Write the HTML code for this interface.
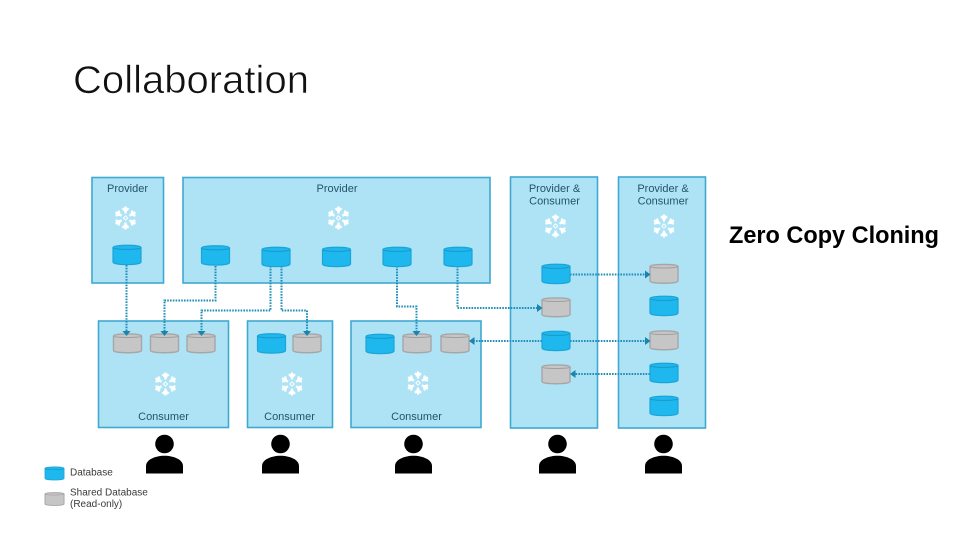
<!DOCTYPE html>
<html><head><meta charset="utf-8"><style>
html,body{margin:0;padding:0;background:#fff}
svg{display:block}
.b{fill:#aee3f5;stroke:#3fa9d0;stroke-width:1.6}
.t{font-family:"Liberation Sans",sans-serif;font-size:11px;fill:#24546a;text-anchor:middle}
.l{font-family:"Liberation Sans",sans-serif;font-size:10px;fill:#3a3a3a}
.c{fill:none;stroke:#1f8db8;stroke-width:2;stroke-dasharray:1.6 1.2}
.a{fill:#1a84ad}
</style></head><body>
<svg width="960" height="540" viewBox="0 0 960 540" xmlns="http://www.w3.org/2000/svg">
<defs>
<g id="bd"><path d="M0 3.500C0 .5 28 .5 28 3.500V18C28 21.500 0 21.500 0 18Z" fill="#1fb8ee" stroke="#1aa5d8" stroke-width="1.2"/><path d="M0 3.500C0 6 28 6 28 3.500" fill="none" stroke="#1799c9" stroke-width="1"/></g>
<g id="gd"><path d="M0 3C0 .3 28 .3 28 3V17.500C28 20.500 0 20.500 0 17.500Z" fill="#c6c6c6" stroke="#a6a6a6" stroke-width="1.400"/><path d="M0 3C0 5 28 5 28 3" fill="none" stroke="#a0a0a0" stroke-width="1"/></g>
<g id="sf" stroke="#fff" fill="none" stroke-width="2.300">
<path id="arm" d="M0-11.500V-4.500M-3-9.800L0-6.800 3-9.800"/>
<use href="#arm" transform="rotate(60)"/><use href="#arm" transform="rotate(120)"/><use href="#arm" transform="rotate(180)"/><use href="#arm" transform="rotate(240)"/><use href="#arm" transform="rotate(300)"/>
<path d="M0-2.200L2.200 0 0 2.200-2.200 0Z" stroke-width="1"/>
</g>
<g id="p"><circle cx="0" cy="-29.500" r="9.300" fill="#000"/><path d="M-18.500 0V-7.500C-18.500-14 -9-17.800 0-17.800S18.500-14 18.500-7.500V0Z" fill="#000"/></g>
</defs>

<text x="73" y="93" font-family="'Liberation Sans',sans-serif" font-size="38.500" fill="#111" stroke="#fff" stroke-width="0.600" textLength="236" lengthAdjust="spacingAndGlyphs">Collaboration</text>
<text x="729" y="243" font-family="'Liberation Sans',sans-serif" font-size="24" font-weight="700" fill="#000" textLength="210" lengthAdjust="spacingAndGlyphs">Zero Copy Cloning</text>

<rect class="b" x="92" y="177.500" width="71.500" height="105.500"/>
<rect class="b" x="183" y="177.500" width="307" height="105.500"/>
<rect class="b" x="510.500" y="177" width="87" height="251"/>
<rect class="b" x="618.500" y="177" width="87" height="251"/>
<rect class="b" x="98.500" y="321" width="130" height="106.500"/>
<rect class="b" x="247.500" y="321" width="85" height="106.500"/>
<rect class="b" x="351" y="321" width="130" height="106.500"/>

<text class="t" x="127.500" y="191.800">Provider</text>
<text class="t" x="337" y="191.800">Provider</text>
<text class="t" x="554.500" y="192">Provider &amp;</text>
<text class="t" x="554.500" y="204.500">Consumer</text>
<text class="t" x="663" y="192">Provider &amp;</text>
<text class="t" x="663" y="204.500">Consumer</text>
<text class="t" x="163.500" y="420">Consumer</text>
<text class="t" x="289.500" y="420">Consumer</text>
<text class="t" x="416.500" y="420">Consumer</text>

<use href="#sf" x="125.500" y="218"/>
<use href="#sf" x="338.500" y="218"/>
<use href="#sf" x="555.500" y="226"/>
<use href="#sf" x="664" y="226"/>
<use href="#sf" x="165.500" y="384"/>
<use href="#sf" x="292" y="384"/>
<use href="#sf" x="418" y="383"/>

<path class="c" d="M126.500 265V331"/>
<path class="c" d="M215.500 266V300.500H164.500V331"/>
<path class="c" d="M270.500 266V310.500H201.500V331"/>
<path class="c" d="M281.500 266V310.500H307V331"/>
<path class="c" d="M397 266V306.500H416.500V331"/>
<path class="c" d="M457.500 266V308H538"/>
<path class="c" d="M570 274.500H646"/>
<path class="c" d="M570 341H646"/>
<path class="c" d="M542 341H473"/>
<path class="c" d="M650 374H574"/>

<use href="#bd" x="113" y="244"/>
<use href="#bd" x="201.500" y="244.500"/>
<use href="#bd" x="262" y="246"/>
<use href="#bd" x="322.500" y="246"/>
<use href="#bd" x="383" y="246"/>
<use href="#bd" x="444" y="246"/>
<use href="#bd" x="542" y="263"/>
<use href="#gd" x="542" y="297"/>
<use href="#bd" x="542" y="330"/>
<use href="#gd" x="542" y="364"/>
<use href="#gd" x="650" y="263.500"/>
<use href="#bd" x="650" y="295"/>
<use href="#gd" x="650" y="330"/>
<use href="#bd" x="650" y="362"/>
<use href="#bd" x="650" y="395"/>
<use href="#gd" x="113.500" y="333"/>
<use href="#gd" x="150.500" y="333"/>
<use href="#gd" x="187" y="333"/>
<use href="#bd" x="257.500" y="332.500"/>
<use href="#gd" x="293" y="333"/>
<use href="#bd" x="366" y="333"/>
<use href="#gd" x="403" y="333"/>
<use href="#gd" x="441" y="333"/>

<path class="a" d="M122.500 331H130.500L126.500 336Z"/>
<path class="a" d="M160.500 331H168.500L164.500 336Z"/>
<path class="a" d="M197.500 331H205.500L201.500 336Z"/>
<path class="a" d="M303 331H311L307 336Z"/>
<path class="a" d="M412.500 331H420.500L416.500 336Z"/>
<path class="a" d="M537 304V312L542.500 308Z"/>
<path class="a" d="M645 270.500V278.500L650.500 274.500Z"/>
<path class="a" d="M645 337V345L650.500 341Z"/>
<path class="a" d="M474.500 337V345L469 341Z"/>
<path class="a" d="M575.500 370V378L570 374Z"/>

<use href="#p" x="164.500" y="473.500"/>
<use href="#p" x="280.500" y="473.500"/>
<use href="#p" x="413.500" y="473.500"/>
<use href="#p" x="557.500" y="473.500"/>
<use href="#p" x="663.500" y="473.500"/>

<g transform="translate(45 466) scale(.68 .68)"><use href="#bd"/></g>
<g transform="translate(45 492) scale(.68 .68)"><use href="#gd"/></g>
<text class="l" x="70" y="475.500">Database</text>
<text class="l" x="70" y="495.500">Shared Database</text>
<text class="l" x="70" y="507">(Read-only)</text>
</svg>
</body></html>
